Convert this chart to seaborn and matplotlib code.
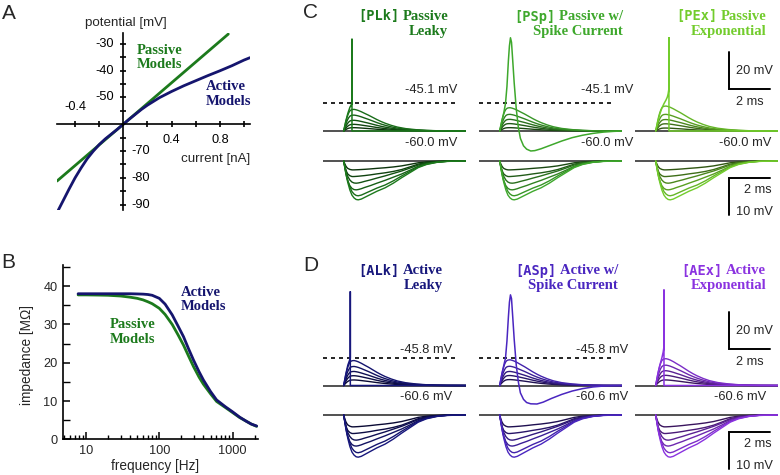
import numpy as np
import pandas as pd
import matplotlib
matplotlib.use("Agg")
import matplotlib.pyplot as plt
import seaborn as sns
from matplotlib.colors import to_rgb
from matplotlib.ticker import FixedLocator, NullFormatter, LogLocator

sns.set_theme(style="white")
plt.rcParams["font.family"] = ["Liberation Sans", "DejaVu Sans"]

# ---------------- data: panel A (I-V curves) ----------------
iv_current_passive = [-0.55, 0.0, 0.87]
iv_potential_passive = [-81.2, -60.0, -26.4]
iv_current_active = [-0.55, -0.5, -0.45, -0.4, -0.35, -0.3, -0.25, -0.2, -0.15, -0.1, -0.05, 0.0,
                     0.05, 0.1, 0.15, 0.2, 0.3, 0.4, 0.5, 0.6, 0.7, 0.8, 0.9, 1.0, 1.05]
iv_potential_active = [-93.0, -88.6, -84.2, -80.0, -76.3, -72.9, -70.1, -67.6, -65.5, -63.7, -61.9, -60.0,
                       -58.1, -56.3, -54.5, -52.9, -50.1, -47.8, -45.7, -43.8, -41.9, -40.1, -38.2, -36.1, -35.2]

# ---------------- data: panel B (impedance) ----------------
freq_hz = [7.8, 10, 15, 20, 30, 40, 50, 60, 70, 80, 100, 120, 150, 180, 214, 250, 293, 350, 400,
           500, 605, 800, 1000, 1250, 1550, 1800, 2130]
imp_passive = [37.7, 37.7, 37.65, 37.6, 37.4, 37.1, 36.8, 36.4, 35.9, 35.4, 34.2, 32.6, 30.0, 27.3, 24.6,
               21.8, 19.0, 16.2, 14.4, 11.9, 9.9, 8.3, 7.0, 5.7, 4.7, 4.0, 3.4]
imp_active = [38.0, 38.0, 38.0, 38.0, 38.0, 38.0, 37.95, 37.9, 37.8, 37.6, 36.8, 35.3, 32.5, 29.6, 26.8,
              23.7, 20.7, 17.6, 15.5, 12.5, 10.3, 8.5, 7.2, 5.8, 4.7, 4.0, 3.5]

# ---------------- data: panels C / D (voltage traces) ----------------
epsp_t = [0, 0.05, 0.1, 0.15, 0.2, 0.25, 0.3, 0.35, 0.4, 0.5, 0.6, 0.7, 0.85, 1.0, 1.2, 1.4,
          1.6, 1.8, 2.0, 2.3, 2.6, 3.0, 3.5, 4.0, 4.5, 5.0, 5.9]
epsp_shape = [0, 0.22, 0.42, 0.6, 0.74, 0.85, 0.93, 0.97, 0.99, 1.0, 0.98, 0.95, 0.89, 0.82, 0.73, 0.63,
              0.53, 0.44, 0.36, 0.26, 0.18, 0.11, 0.06, 0.03, 0.012, 0.004, 0]

ipsp_t = [0, 0.05, 0.1, 0.15, 0.2, 0.3, 0.4, 0.5, 0.6, 0.7, 0.85, 1.0, 1.3, 1.6, 2.0, 2.4,
          2.8, 3.2, 3.6, 4.0, 4.5, 5.0, 5.9]
ipsp_shallow = [0, 0.3, 0.55, 0.72, 0.84, 0.95, 1.0, 1.0, 0.99, 0.98, 0.96, 0.94, 0.89, 0.83, 0.76, 0.67,
                0.55, 0.38, 0.2, 0.1, 0.04, 0.01, 0]
ipsp_mid = [0, 0.22, 0.42, 0.58, 0.7, 0.86, 0.95, 0.99, 1.0, 0.99, 0.96, 0.92, 0.85, 0.77, 0.67, 0.56,
            0.45, 0.32, 0.18, 0.09, 0.035, 0.01, 0]
ipsp_deep = [0, 0.15, 0.3, 0.44, 0.56, 0.75, 0.88, 0.95, 0.99, 1.0, 0.98, 0.94, 0.86, 0.78, 0.69, 0.57,
             0.43, 0.3, 0.17, 0.09, 0.035, 0.01, 0]

# subthreshold EPSP peak amplitudes (mV above rest)
epsp_amp = {
    "PLk": [1.8, 3.6, 5.8, 8.6, 11.7], "PSp": [1.8, 4.0, 6.3, 9.0, 12.6], "PEx": [1.6, 3.9, 6.2, 9.0, 13.5],
    "ALk": [3.0, 5.3, 7.6, 10.3, 13.5], "ASp": [3.2, 5.4, 7.6, 10.4, 13.9], "AEx": [3.0, 5.5, 8.0, 11.0, 14.5],
}
# hyperpolarising responses (mV below rest)
ipsp_amp_C = [2.4, 4.2, 6.0, 7.8, 9.4, 10.5]
ipsp_amp_D = [3.2, 5.0, 6.8, 8.4, 10.2, 11.4]

# spiking traces (ms after onset, mV relative to rest)
spike_t = {
    "PLk": [0, 0.1, 0.2, 0.3, 0.4, 0.4, 0.4, 5.9],
    "PSp": [0, 0.1, 0.2, 0.28, 0.35, 0.42, 0.47, 0.52, 0.57, 0.63, 0.7, 0.8, 0.9, 1.0, 1.15, 1.3, 1.5,
            1.7, 2.0, 2.5, 3.0, 3.5, 4.0, 4.5, 5.0, 5.5, 5.9],
    "PEx": [0, 0.1, 0.2, 0.3, 0.4, 0.5, 0.56, 0.6, 0.64, 0.64, 0.64, 5.9],
    "ALk": [0, 0.1, 0.2, 0.32, 0.32, 0.32, 5.9],
    "ASp": [0, 0.1, 0.2, 0.28, 0.35, 0.42, 0.47, 0.52, 0.57, 0.63, 0.7, 0.8, 0.9, 1.0, 1.15, 1.3, 1.5,
            1.8, 2.1, 2.5, 3.0, 3.5, 4.0, 4.5, 5.0, 5.5, 5.9],
    "AEx": [0, 0.1, 0.2, 0.3, 0.36, 0.4, 0.4, 0.4, 5.9],
}
spike_v = {
    "PLk": [0, 5.2, 9.5, 12.8, 14.9, 49.6, 0, 0],
    "PSp": [0, 5.2, 10, 14.9, 24, 38, 46, 50.4, 48, 38, 26, 12, 2, -4, -8, -9.8, -10.8,
            -10.6, -9.6, -7.5, -5.4, -3.6, -2.3, -1.3, -0.6, -0.2, 0],
    "PEx": [0, 5, 9.2, 12.4, 14.8, 16.8, 18.3, 20, 23, 50.4, 0, 0],
    "ALk": [0, 6, 11, 14.8, 50.7, 0, 0],
    "ASp": [0, 6, 11, 14.8, 24, 37, 45, 49, 47, 37, 25, 11, 2, -4, -7.5, -9.2, -9.9,
            -10.0, -9.0, -7.0, -4.8, -3.0, -1.7, -0.8, -0.3, -0.1, 0],
    "AEx": [0, 6, 11, 15, 18, 21, 51.6, 0, 0],
}
threshold_C, rest_C = -45.1, -60.0
threshold_D, rest_D = -45.8, -60.6

titles_C = [("[PLk]", "Passive", "Leaky"), ("[PSp]", "Passive w/", "Spike Current"), ("[PEx]", "Passive", "Exponential")]
titles_D = [("[ALk]", "Active", "Leaky"), ("[ASp]", "Active w/", "Spike Current"), ("[AEx]", "Active", "Exponential")]

# ---------------- style ----------------
GREEN = "#1c7a1c"
NAVY = "#15156e"
COLS_C = ["#1c7a1c", "#3ea82c", "#72cc2c"]
COLS_D = ["#17177c", "#4a26c0", "#8a32e0"]
SERIF = ["Liberation Serif", "DejaVu Serif"]
MONO = ["DejaVu Sans Mono"]

W, H = 780, 475
fig = plt.figure(figsize=(7.8, 4.75), dpi=100)


def pax(x0, y0, x1, y1):
    ax = fig.add_axes([x0 / W, 1 - y1 / H, (x1 - x0) / W, (y1 - y0) / H])
    ax.patch.set_alpha(0)
    return ax


def ftxt(x, y, s, **kw):
    return fig.text(x / W, 1 - y / H, s, **kw)


# ================= Panel A =================
axA = pax(57, 33, 250, 210)
sns.lineplot(x=iv_current_passive, y=iv_potential_passive, ax=axA, color=GREEN, lw=2.0,
             estimator=None, sort=False)
sns.lineplot(x=iv_current_active, y=iv_potential_active, ax=axA, color=NAVY, lw=2.0,
             estimator=None, sort=False)
axA.set_xlim(-0.55, 1.05)
axA.set_ylim(-92, -26)
for s in ["top", "right"]:
    axA.spines[s].set_visible(False)
axA.spines["left"].set_position(("data", 0))
axA.spines["bottom"].set_position(("data", -60))
for s in ["left", "bottom"]:
    axA.spines[s].set_color("black")
    axA.spines[s].set_linewidth(1.2)
axA.xaxis.set_major_locator(FixedLocator([-0.4, -0.2, 0.2, 0.4, 0.6, 0.8, 1.0]))
axA.yaxis.set_major_locator(FixedLocator([-90, -85, -80, -75, -70, -65, -55, -50, -45, -40, -35, -30]))
axA.tick_params(axis="both", direction="inout", length=5, width=1.2, color="black",
                labelleft=False, labelbottom=False, left=True, bottom=True)
axA.set_xlabel("")
axA.set_ylabel("")
tf = dict(fontsize=9.2, color="black")
for v in [-30, -40, -50]:
    axA.annotate(f"{v}", xy=(0, v), xytext=(-7, 0), textcoords="offset points", ha="right", va="center", **tf)
for v in [-70, -80, -90]:
    axA.annotate(f"{v}", xy=(0, v), xytext=(6, 0), textcoords="offset points", ha="left", va="center", **tf)
axA.annotate("-0.4", xy=(-0.4, -60), xytext=(0, 8), textcoords="offset points", ha="center", va="bottom", **tf)
for v in [0.4, 0.8]:
    axA.annotate(f"{v}", xy=(v, -60), xytext=(0, -7), textcoords="offset points", ha="center", va="top", **tf)
axA.annotate("potential [mV]", xy=(0, -26), xytext=(2, 3), textcoords="offset points",
             ha="center", va="bottom", fontsize=9.6)
axA.annotate("current [nA]", xy=(1.05, -60), xytext=(0, -21), textcoords="offset points",
             ha="right", va="top", fontsize=9.6)
ftxt(137, 50, "Passive", color=GREEN, fontsize=10.5, fontweight="bold", family=SERIF, ha="left", va="center")
ftxt(137, 64.5, "Models", color=GREEN, fontsize=10.5, fontweight="bold", family=SERIF, ha="left", va="center")
ftxt(206, 86.7, "Active", color=NAVY, fontsize=10.5, fontweight="bold", family=SERIF, ha="left", va="center")
ftxt(206, 101.3, "Models", color=NAVY, fontsize=10.5, fontweight="bold", family=SERIF, ha="left", va="center")

# ================= Panel B =================
axB = pax(63, 265, 258, 439.4)
sns.lineplot(x=freq_hz, y=imp_passive, ax=axB, color=GREEN, lw=2.0, estimator=None, sort=False)
sns.lineplot(x=freq_hz, y=imp_active, ax=axB, color=NAVY, lw=2.0, estimator=None, sort=False)
axB.set_xscale("log")
axB.set_xlim(10 ** 0.686, 10 ** 3.347)
axB.set_ylim(0, 45.5)
for s in ["top", "right"]:
    axB.spines[s].set_visible(False)
for s in ["left", "bottom"]:
    axB.spines[s].set_color("black")
    axB.spines[s].set_linewidth(1.2)
axB.set_xticks([10, 100, 1000])
axB.set_xticklabels(["10", "100", "1000"])
axB.xaxis.set_minor_locator(LogLocator(base=10, subs=np.arange(2, 10)))
axB.xaxis.set_minor_formatter(NullFormatter())
axB.set_yticks([0, 10, 20, 30, 40])
axB.yaxis.set_minor_locator(FixedLocator([5, 15, 25, 35, 45]))
axB.tick_params(axis="both", which="major", direction="in", length=5, width=1.1, color="black",
                labelsize=9.2, pad=4, left=True, bottom=True)
axB.tick_params(axis="both", which="minor", direction="in", length=3, width=1.0, color="black",
                left=True, bottom=True)
axB.tick_params(axis="y", which="minor", length=5)
axB.set_xlabel("")
axB.set_ylabel("")
ftxt(155, 466, "frequency [Hz]", fontsize=9.8, ha="center", va="center")
ftxt(27, 355, "impedance [M\u03a9]", fontsize=9.8, ha="center", va="center", rotation=90)
ftxt(180.7, 292, "Active", color=NAVY, fontsize=10.5, fontweight="bold", family=SERIF, ha="left", va="center")
ftxt(180.7, 306.7, "Models", color=NAVY, fontsize=10.5, fontweight="bold", family=SERIF, ha="left", va="center")
ftxt(155.7, 325, "Passive", color=GREEN, fontsize=10.5, fontweight="bold", family=SERIF, ha="right", va="center")
ftxt(155.7, 339.5, "Models", color=GREEN, fontsize=10.5, fontweight="bold", family=SERIF, ha="right", va="center")

# ================= Panels C / D =================
COL_X = [323, 479, 635]
COL_W = 143
PX_MS = 20.7
UP_PX_MV = 1.85
LO_PX_MV = 3.7
ONSET = 1.0
XMAX = COL_W / PX_MS
fade = [0.42, 0.54, 0.66, 0.78, 0.89, 1.0]
ipsp_shapes = [ipsp_shallow, ipsp_shallow, ipsp_mid, ipsp_mid, ipsp_deep, ipsp_deep]


def shade(c, f):
    r, g, b = to_rgb(c)
    return (r * f, g * f, b * f)


def clean(ax):
    ax.set_xlim(0, XMAX)
    ax.set_axis_off()


rows = [
    dict(models=["PLk", "PSp", "PEx"], cols=COLS_C, titles=titles_C, ub=131, lb=161, t1=16.5, t2=31.5,
         thr=threshold_C, rest=rest_C, ipsp=ipsp_amp_C, thr_y=22.0, rest_y=-6.5,
         thr_right=[457, 633, None], rest_right=[457, 633, 771], bar_up=(22.7, 42.7), bar_lo=-4.5),
    dict(models=["ALk", "ASp", "AEx"], cols=COLS_D, titles=titles_D, ub=385.5, lb=415, t1=271, t2=285.5,
         thr=threshold_D, rest=rest_D, ipsp=ipsp_amp_D, thr_y=19.2, rest_y=-6.0,
         thr_right=[452, 628, None], rest_right=[452, 628, 766], bar_up=(19.7, 39.7), bar_lo=-4.5),
]

title_pos = {0: [448, 623, 766], 1: [443, 618, 766]}

for ri, row in enumerate(rows):
    for ci in range(3):
        x0 = COL_X[ci]
        m = row["models"][ci]
        col = row["cols"][ci]
        # --- upper axes (depolarising responses) ---
        ub = row["ub"]
        axu = pax(x0, ub - 100, x0 + COL_W, ub + 30)
        axu.axhline(0, color="#222222", lw=1.1, zorder=1)
        if ci < 2:
            axu.axhline(row["thr"] - row["rest"], xmax=0.95, color="black", lw=1.2,
                        ls=(0, (2.4, 2.4)), zorder=1)
        for k, a in enumerate(epsp_amp[m]):
            df = pd.DataFrame({"t": np.array(epsp_t) + ONSET, "v": np.array(epsp_shape) * a})
            sns.lineplot(data=df, x="t", y="v", ax=axu, color=shade(col, fade[k]), lw=1.0,
                         estimator=None, sort=False, zorder=2)
        df = pd.DataFrame({"t": np.array(spike_t[m]) + ONSET, "v": spike_v[m]})
        sns.lineplot(data=df, x="t", y="v", ax=axu, color=col, lw=1.1, estimator=None, sort=False, zorder=3)
        axu.set_ylim(-30 / UP_PX_MV, 100 / UP_PX_MV)
        clean(axu)
        # --- lower axes (hyperpolarising responses) ---
        lb = row["lb"]
        axl = pax(x0, lb - 5, x0 + COL_W, lb + 52)
        axl.axhline(0, color="#222222", lw=1.1, zorder=1)
        for k, a in enumerate(row["ipsp"]):
            df = pd.DataFrame({"t": np.array(ipsp_t) + ONSET, "v": -np.array(ipsp_shapes[k]) * a})
            sns.lineplot(data=df, x="t", y="v", ax=axl, color=shade(col, fade[k]), lw=1.0,
                         estimator=None, sort=False, zorder=2)
        axl.set_ylim(-52 / LO_PX_MV, 5 / LO_PX_MV)
        clean(axl)
        # --- labels ---
        if row["thr_right"][ci] is not None:
            ftxt(row["thr_right"][ci], ub - row["thr_y"] * UP_PX_MV, f"{row['thr']:.1f} mV",
                 fontsize=9.3, ha="right", va="center")
        ftxt(row["rest_right"][ci], ub - row["rest_y"] * UP_PX_MV, f"{row['rest']:.1f} mV",
             fontsize=9.3, ha="right", va="center")
        # --- titles ---
        code, l1, l2 = row["titles"][ci]
        xr = title_pos[ri][ci]
        t1 = ftxt(xr, row["t1"], l1, color=col, fontsize=10.5, fontweight="bold", family=SERIF,
                  ha="right", va="center")
        ftxt(xr, row["t2"], l2, color=col, fontsize=10.5, fontweight="bold", family=SERIF,
             ha="right", va="center")
        fig.canvas.draw()
        bb = t1.get_window_extent()
        ftxt(bb.x0 - 3, row["t1"], code, color=col, fontsize=9.8, fontweight="bold", family=MONO,
             ha="right", va="center")
        # --- scale bars (in last column) ---
        if ci == 2:
            bx = (729 - x0) / PX_MS
            y_lo, y_hi = row["bar_up"]
            axu.plot([bx, bx, bx + 2.0], [y_hi, y_lo, y_lo], color="black", lw=1.4, clip_on=False,
                     solid_joinstyle="miter")
            axu.text(bx + 0.35, (y_lo + y_hi) / 2, "20 mV", fontsize=9.2, ha="left", va="center")
            axu.text(bx + 1.0, y_lo - 7.2, "2 ms", fontsize=9.2, ha="center", va="center")
            yb = row["bar_lo"]
            axl.plot([bx + 2.0, bx, bx], [yb, yb, yb - 10.0], color="black", lw=1.4, clip_on=False,
                     solid_joinstyle="miter")
            axl.text(bx + 2.05, yb - 3.4, "2 ms", fontsize=9.2, ha="right", va="center")
            axl.text(bx + 0.35, yb - 9.3, "10 mV", fontsize=9.2, ha="left", va="center")

# panel letters
ftxt(8.5, 13.5, "A", fontsize=15, ha="center", va="center")
ftxt(8.5, 263, "B", fontsize=15, ha="center", va="center")
ftxt(311, 12.5, "C", fontsize=15, ha="center", va="center")
ftxt(311, 265.5, "D", fontsize=15, ha="center", va="center")

fig.savefig("out.png", dpi=100)
